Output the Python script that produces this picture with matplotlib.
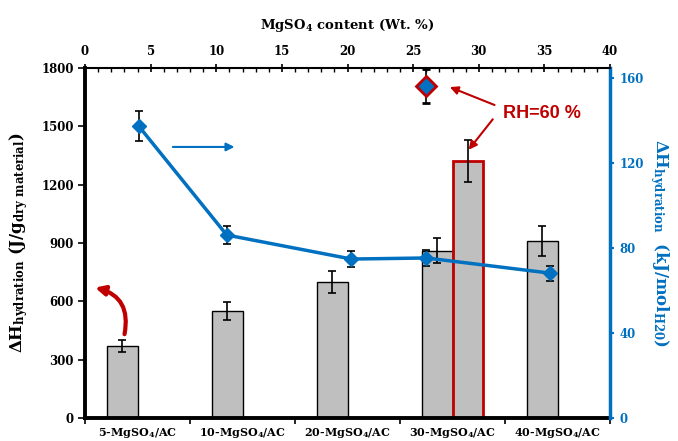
import matplotlib
matplotlib.use('Agg')
import matplotlib.pyplot as plt
from matplotlib.patches import FancyArrowPatch
import numpy as np

# data
categories = ['5-MgSO$_4$/AC', '10-MgSO$_4$/AC', '20-MgSO$_4$/AC',
              '30-MgSO$_4$/AC', '40-MgSO$_4$/AC']
dh_mass = [370, 550, 700, 860, 910]          # J/g dry material
dh_mass_err = [30, 45, 55, 65, 75]
rh60_mass = 1320
rh60_mass_err = 108

wt_content = [4.1, 10.8, 20.3, 26.0, 35.4]  # MgSO4 wt %
dh_molar = [137.3, 86.1, 74.8, 75.3, 68.2]   # kJ/mol H2O
dh_molar_err = [7.0, 4.2, 3.7, 3.7, 3.5]
rh60_wt = 26.0
rh60_molar = 156.2
rh60_molar_err = 8.0

blue = '#0070C0'
red = '#C00000'

plt.rcParams['font.family'] = 'DejaVu Serif'
plt.rcParams['font.weight'] = 'bold'
plt.rcParams['mathtext.fontset'] = 'custom'
plt.rcParams['mathtext.rm'] = 'DejaVu Serif:bold'
plt.rcParams['mathtext.it'] = 'DejaVu Serif:bold'
plt.rcParams['mathtext.bf'] = 'DejaVu Serif:bold'

fig = plt.figure(figsize=(6.78, 4.41), dpi=100)
rect = [85 / 678, 1 - 418 / 441, 525 / 678, 350 / 441]
ax = fig.add_axes(rect)

# bars (bottom categorical axis, left y axis)
x = np.arange(len(categories))
w = 0.286
ekw = dict(ecolor='black', elinewidth=1.2, capsize=3, capthick=1.2)
ax.bar(x - w / 2, dh_mass, width=w, color='#BFBFBF', edgecolor='black', lw=1.0,
       yerr=dh_mass_err, error_kw=ekw, zorder=2)
ax.bar(3 + w / 2, rh60_mass, width=w, color='#BFBFBF', edgecolor=red, lw=2.0,
       yerr=rh60_mass_err, error_kw=ekw, zorder=2)

ax.set_xlim(-0.5, len(categories) - 0.5)
ax.set_ylim(0, 1800)
ax.set_yticks(np.arange(0, 1801, 300))
ax.set_xticks(np.arange(-0.5, len(categories), 1.0))
ax.set_xticklabels([])
ax.set_xticks(x, minor=True)
ax.set_xticklabels(categories, minor=True, fontsize=8, fontweight='bold')
ax.tick_params(axis='x', which='minor', length=0, pad=6)
ax.tick_params(axis='x', which='major', length=4, width=1.2, direction='out')
ax.tick_params(axis='y', length=5, width=1.2, direction='out', labelsize=8.5, pad=3)
for s in ['top', 'right']:
    ax.spines[s].set_visible(False)
ax.spines['left'].set_linewidth(2.8)
ax.spines['bottom'].set_linewidth(2.8)
ax.set_ylabel('ΔH$_{\\mathrm{hydration}}$ (J/g$_{\\mathrm{dry\\ material}}$)',
              fontsize=12, fontweight='bold', labelpad=8)

# line (top x axis, right y axis)
ax2 = fig.add_axes(rect, label='molar')
ax2.patch.set_visible(False)
ax2.xaxis.tick_top()
ax2.xaxis.set_label_position('top')
ax2.yaxis.tick_right()
ax2.yaxis.set_label_position('right')
ax2.set_xlim(0, 40)
ax2.set_ylim(0, 164.7)
ax2.errorbar(wt_content, dh_molar, yerr=dh_molar_err, color=blue, lw=2.5,
             marker='D', ms=7, mfc=blue, mec=blue, ecolor='black', elinewidth=1.2,
             capsize=3, capthick=1.2, zorder=3)
ax2.errorbar([rh60_wt], [rh60_molar], yerr=[rh60_molar_err], color=blue, lw=0,
             marker='D', ms=10, mfc=blue, mec=red, mew=2, ecolor='black',
             elinewidth=1.2, capsize=3, capthick=1.2, zorder=3)

ax2.set_xticks(np.arange(0, 41, 5))
ax2.set_xticks(np.arange(0, 41, 1), minor=True)
ax2.tick_params(axis='x', which='major', direction='inout', length=6, width=1.2,
                labelsize=8.5, pad=4)
ax2.tick_params(axis='x', which='minor', direction='in', length=3, width=1.0)
ax2.set_yticks(np.arange(0, 161, 40))
ax2.tick_params(axis='y', colors=blue, length=3, width=1.5, direction='out',
                labelsize=8.5, pad=4)
for s in ['left', 'bottom']:
    ax2.spines[s].set_visible(False)
ax2.spines['top'].set_linewidth(1.5)
ax2.spines['right'].set_linewidth(2.5)
ax2.spines['right'].set_color(blue)
ax2.set_xlabel('MgSO$_4$ content (Wt. %)', fontsize=9.5, fontweight='bold', labelpad=12)
ax2.set_ylabel('ΔH$_{\\mathrm{hydration}}$  (kJ/mol$_{\\mathrm{H20}}$)', color=blue,
               fontsize=12, fontweight='bold', rotation=270, labelpad=19)

# arrows
ax.add_patch(FancyArrowPatch((0.31, 1394), (0.95, 1394), arrowstyle='-|>',
                             mutation_scale=12, color=blue, lw=1.5, zorder=4))
ax.add_patch(FancyArrowPatch((-0.129, 417), (-0.43, 674), arrowstyle='-|>',
                             connectionstyle='arc3,rad=0.5', mutation_scale=14,
                             color=red, lw=3, zorder=4))
ax2.text(34.8, 143.5, 'RH=60 %', color=red, fontsize=13, fontweight='bold',
         family='Liberation Sans', ha='center', va='center')
ax2.annotate('', xy=(27.6, 156.2), xytext=(31.4, 146.8),
             arrowprops=dict(arrowstyle='-|>', color=red, lw=1.5, mutation_scale=12))
ax2.annotate('', xy=(29.1, 125.2), xytext=(31.2, 141.6),
             arrowprops=dict(arrowstyle='-|>', color=red, lw=1.5, mutation_scale=12))

fig.savefig('out.png', dpi=100)
